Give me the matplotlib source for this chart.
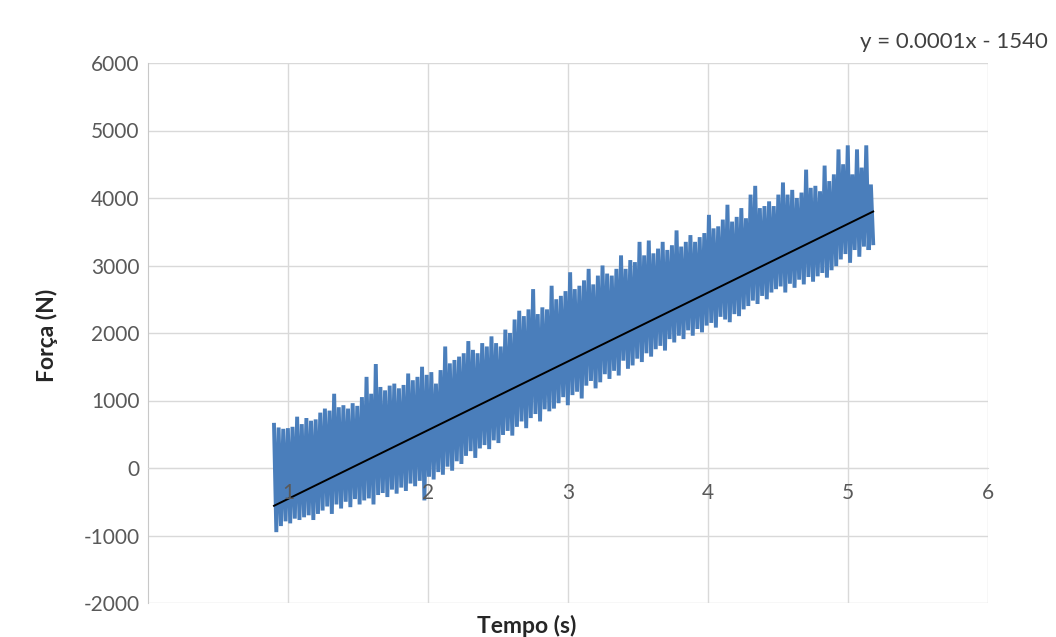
import numpy as np
import matplotlib
matplotlib.use('Agg')
import matplotlib.pyplot as plt
from matplotlib.transforms import offset_copy

plt.rcParams['font.family'] = ['Lato', 'DejaVu Sans']
plt.rcParams['axes.unicode_minus'] = False

upper = [640, 600, 580, 590, 610, 760, 650, 740, 700, 720,
         820, 880, 850, 1100, 900, 930, 880, 960, 920, 1050,
         1350, 1100, 1540, 1200, 1150, 1220, 1250, 1180, 1230, 1400,
         1300, 1350, 1500, 1380, 1420, 1250, 1450, 1800, 1550, 1600,
         1650, 1700, 1880, 1750, 1700, 1850, 1800, 1950, 1850, 1800,
         2050, 2000, 2200, 2330, 2250, 2350, 2650, 2280, 2380, 2350,
         2700, 2500, 2550, 2620, 2900, 2650, 2700, 2780, 2950, 2720,
         2850, 3000, 2880, 2850, 2950, 3150, 2950, 3080, 3050, 3350,
         3150, 3370, 3180, 3250, 3350, 3230, 3300, 3520, 3280, 3350,
         3450, 3350, 3420, 3480, 3750, 3550, 3580, 3680, 3900, 3650,
         3720, 3850, 3700, 4050, 4180, 3850, 3880, 3950, 3880, 4050,
         4230, 4050, 4120, 4000, 4080, 4420, 4150, 4180, 4100, 4480,
         4250, 4350, 4720, 4500, 4780, 4350, 4720, 4450, 4780, 4200]
lower = [-950, -860, -790, -820, -750, -770, -730, -700, -770, -680,
         -630, -570, -680, -540, -600, -500, -580, -460, -540, -480,
         -450, -540, -400, -370, -430, -320, -380, -290, -340, -230,
         -270, -190, -480, -130, -170, -60, -100, 20, -40, 100,
         60, 180, 250, 150, 290, 340, 280, 410, 370, 490,
         550, 480, 610, 690, 590, 740, 800, 690, 870, 840,
         880, 960, 1050, 930, 1080, 1130, 1030, 1220, 1290, 1180,
         1270, 1390, 1320, 1440, 1370, 1590, 1470, 1520, 1620, 1570,
         1700, 1650, 1760, 1810, 1740, 1910, 1860, 1960, 1910, 2040,
         1960, 2060, 2010, 2110, 2150, 2080, 2240, 2200, 2160, 2280,
         2250, 2350, 2400, 2480, 2430, 2550, 2500, 2600, 2650, 2690,
         2600, 2730, 2670, 2790, 2720, 2830, 2760, 2840, 2890, 2820,
         2930, 2990, 3090, 3170, 3040, 3230, 3130, 3280, 3230, 3330]
t_start, t_end = 0.90, 5.18

# Linear trend line end points
trend_t = [0.90, 5.18]
trend_f = [-560, 3800]

x_ticks = [1, 2, 3, 4, 5, 6]
eq_text = 'y = 0.0001x - 1540'

force = np.column_stack([upper, lower]).ravel()
t = np.linspace(t_start, t_end, len(force))

fig = plt.figure(figsize=(10.56, 6.37), dpi=100)
ax = fig.add_axes([148/1056, 1 - 603/637, 840/1056, 540/637])

ax.plot(t, force, color='#4a7ebb', lw=2.8, solid_joinstyle='bevel', zorder=3)
ax.plot(trend_t, trend_f, color='black', lw=1.4, zorder=4)

ax.set_xlim(0, 6)
ax.set_ylim(-2000, 6000)
ax.set_xticks(x_ticks)
ax.set_xticklabels([])
ax.set_yticks(range(-2000, 6001, 1000))
ax.grid(True, color='#d9d9d9', lw=1, zorder=0)

for s in ['top', 'right']:
    ax.spines[s].set_visible(False)
ax.spines['left'].set_color('#c8c8c8')
ax.spines['bottom'].set_position(('data', 0))
ax.spines['bottom'].set_color('#d9d9d9')
ax.tick_params(axis='x', length=0)
ax.tick_params(axis='y', length=0, pad=6, labelsize=15, labelcolor='#595959')

# x labels sit just under the zero line, drawn over the signal
lab_tr = offset_copy(ax.transData, fig=fig, y=-11, units='points')
for xt in x_ticks:
    ax.text(xt, 0, str(xt), transform=lab_tr, ha='center', va='top',
            fontsize=15, color='#595959', zorder=5)

fig.text(527/1056, 1 - 626/637, 'Tempo (s)', ha='center', va='center',
         fontsize=16.5, fontweight='bold', color='#262626')
fig.text(47/1056, 1 - 335/637, 'Força (N)', ha='center', va='center',
         rotation=90, fontsize=16.5, fontweight='bold', color='#262626')
fig.text(1048/1056, 1 - 42/637, eq_text, ha='right', va='center',
         fontsize=16, color='#404040')

fig.savefig('out.png', dpi=100)
